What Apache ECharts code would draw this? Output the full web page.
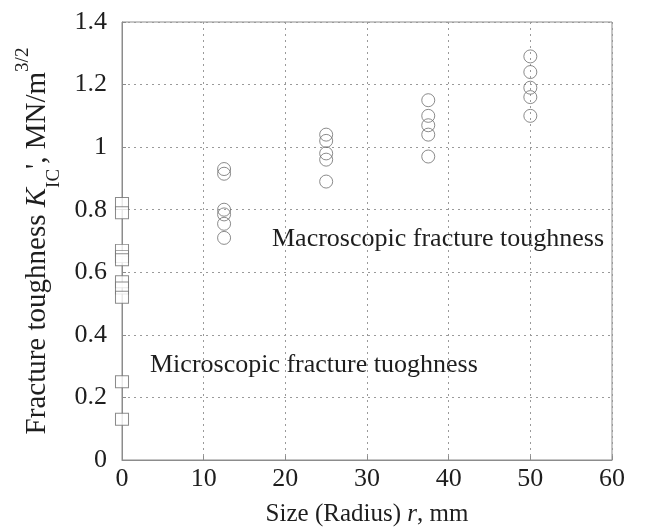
<!DOCTYPE html>
<html>
<head>
<meta charset="utf-8">
<script src="https://cdn.jsdelivr.net/npm/echarts@6/dist/echarts.min.js"></script>
<style>
  html, body { margin: 0; padding: 0; background: #fff; }
  #chartContainer { width: 670px; height: 532px; }
</style>
</head>
<body>
<div id="chartContainer"></div>
<script>
// 微观断裂韧性 (r = 0)
const microX = [0, 0, 0, 0, 0, 0, 0, 0, 0, 0];
const microY = [0.82, 0.79, 0.67, 0.65, 0.64, 0.57, 0.55, 0.52, 0.25, 0.13];

// 宏观断裂韧性
const macroX = [12.5, 12.5, 12.5, 12.5, 12.5, 12.5,
  25, 25, 25, 25, 25,
  37.5, 37.5, 37.5, 37.5, 37.5,
  50, 50, 50, 50, 50];
const macroY = [0.93, 0.915, 0.80, 0.785, 0.755, 0.71,
  1.04, 1.02, 0.98, 0.96, 0.89,
  1.15, 1.10, 1.07, 1.04, 0.97,
  1.29, 1.24, 1.19, 1.16, 1.10];

const xTicks = [0, 10, 20, 30, 40, 50, 60];
const yTicks = [0, 0.2, 0.4, 0.6, 0.8, 1, 1.2, 1.4];

const FONT = "Liberation Serif";
const GRAY = "#8c8c8c";
const INK = "#1e1e1e";

var chartContainer = document.getElementById("chartContainer");
var myChart = echarts.init(chartContainer);

var option = {
  backgroundColor: "#fff",
  animation: false,
  grid: {
    left: 122,
    right: 58,
    top: 22,
    bottom: 70,
    show: true,
    borderColor: GRAY,
    borderWidth: 1,
  },
  xAxis: {
    type: "value",
    min: xTicks[0],
    max: xTicks[xTicks.length - 1],
    interval: 10,
    name: "Size (Radius) {i|r}, mm",
    nameLocation: "middle",
    nameGap: 42,
    nameTextStyle: {
      fontFamily: FONT,
      fontSize: 25,
      color: INK,
      rich: {
        i: { fontFamily: FONT, fontSize: 25, fontStyle: "italic", color: INK },
      },
    },
    axisLine: { lineStyle: { color: GRAY } },
    axisTick: { inside: true, length: 4, lineStyle: { color: GRAY } },
    axisLabel: { fontFamily: FONT, fontSize: 26, color: INK, margin: 6 },
    splitLine: { show: true, lineStyle: { color: "#9a9a9a", type: [2, 4] } },
  },
  yAxis: {
    type: "value",
    min: yTicks[0],
    max: yTicks[yTicks.length - 1],
    interval: 0.2,
    name: "{n|Fracture toughness }{i|K}{sub|IC}{n|', MN/m}{sup|3/2}",
    nameLocation: "middle",
    nameGap: 64,
    nameTextStyle: {
      fontFamily: FONT,
      fontSize: 29,
      color: INK,
      rich: {
        n: { fontFamily: FONT, fontSize: 29, color: INK, lineHeight: 36 },
        i: { fontFamily: FONT, fontSize: 29, fontStyle: "italic", color: INK, lineHeight: 36 },
        sub: { fontFamily: FONT, fontSize: 19, color: INK, verticalAlign: "bottom", lineHeight: 36, padding: [0, 0, -8, 0] },
        sup: { fontFamily: FONT, fontSize: 19, color: INK, verticalAlign: "top", lineHeight: 36, padding: [-6, 0, 0, 0] },
      },
    },
    axisLine: { lineStyle: { color: GRAY } },
    axisTick: { inside: true, length: 4, lineStyle: { color: GRAY } },
    axisLabel: {
      fontFamily: FONT,
      fontSize: 26,
      color: INK,
      margin: 15,
      formatter: (v) => String(Math.round(v * 10) / 10),
    },
    splitLine: { show: true, lineStyle: { color: "#9a9a9a", type: [2, 4] } },
  },
  series: [
    {
      name: "Microscopic",
      type: "scatter",
      symbol: "rect",
      symbolSize: [13, 12],
      itemStyle: { color: "#fff", borderColor: "#6e6e6e", borderWidth: 1 },
      data: microX.map((x, i) => [x, microY[i]]),
      z: 5,
    },
    {
      name: "Macroscopic",
      type: "scatter",
      symbol: "circle",
      symbolSize: 13,
      itemStyle: { color: "rgba(255,255,255,0)", borderColor: "#6e6e6e", borderWidth: 1 },
      data: macroX.map((x, i) => [x, macroY[i]]),
      z: 5,
    },
  ],
  graphic: [
    {
      type: "text",
      left: 272,
      top: 226,
      style: { text: "Macroscopic fracture toughness", font: "26px " + FONT, fill: INK },
    },
    {
      type: "text",
      left: 150,
      top: 352,
      style: { text: "Microscopic fracture tuoghness", font: "26px " + FONT, fill: INK },
    },
  ],
};

myChart.setOption(option);
</script>
</body>
</html>
